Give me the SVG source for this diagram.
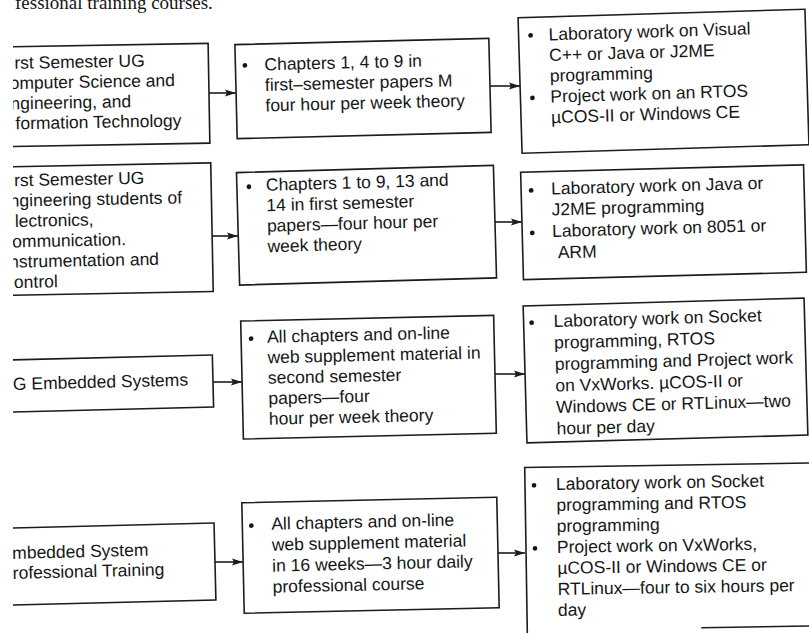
<svg xmlns="http://www.w3.org/2000/svg" width="809" height="633" viewBox="0 0 809 633">
<defs>
<style>
.box{fill:none;stroke:#1c1c1c;stroke-width:1.6}
.t{font-family:"Liberation Sans",Arial,Helvetica,sans-serif;font-size:17.5px;fill:#161616}
.cap{font-family:"Liberation Serif","Times New Roman",serif;font-size:19px;fill:#161616}
.b{fill:#161616}
.conn line{stroke:#1c1c1c;stroke-width:1.6;marker-end:url(#ah)}
</style>
<marker id="ah" markerUnits="userSpaceOnUse" markerWidth="12" markerHeight="8" refX="11" refY="4" orient="auto">
<path d="M0,0.5 L11,4 L0,7.5 L2,4 Z" fill="#1c1c1c"/>
</marker>
<clipPath id="crop"><rect x="13" y="0" width="796" height="633"/></clipPath>
</defs>
<rect x="0" y="0" width="809" height="633" fill="#fff"/>
<g clip-path="url(#crop)">
<text class="cap" x="15" y="8.5">fessional training courses.</text>

<g id="L1" transform="rotate(-1.0 89.5 95.3)">
<rect class="box" x="-30" y="45.4" width="239" height="99.8"/>
<text class="t" x="15" y="67.5">rst Semester UG</text>
<text class="t" x="9.8" y="87.7">omputer Science and</text>
<text class="t" x="10.3" y="108">ngineering, and</text>
<text class="t" x="15" y="128">formation Technology</text>
</g>
<g id="M1" transform="rotate(-1.4 363 88.5)">
<rect class="box" x="236" y="41.5" width="254" height="94"/>
<circle class="b" cx="245.5" cy="62.5" r="2.4"/>
<text class="t" x="265" y="68">Chapters 1, 4 to 9 in</text>
<text class="t" x="265" y="88.5">first–semester papers M</text>
<text class="t" x="265" y="109">four hour per week theory</text>
</g>
<g id="R1" transform="rotate(-1.7 663.5 81.25)">
<rect class="box" x="520" y="13.5" width="287" height="135.5"/>
<circle class="b" cx="532" cy="31.5" r="2.4"/>
<text class="t" x="550" y="37">Laboratory work on Visual</text>
<text class="t" x="550" y="57.7">C++ or Java or J2ME</text>
<text class="t" x="550" y="78.4">programming</text>
<circle class="b" cx="532" cy="94" r="2.4"/>
<text class="t" x="550" y="99.1">Project work on an RTOS</text>
<text class="t" x="550" y="119.8">µCOS-II or Windows CE</text>
</g>

<g id="L2" transform="rotate(-1.1 91 229.5)">
<rect class="box" x="-30" y="165.25" width="242" height="128.5"/>
<text class="t" x="15" y="184.8">rst Semester UG</text>
<text class="t" x="10.3" y="205.2">ngineering students of</text>
<text class="t" x="15" y="225.5">lectronics,</text>
<text class="t" x="12" y="245.9">ommunication.</text>
<text class="t" x="8.6" y="266.2">nstrumentation and</text>
<text class="t" x="13" y="286.6">ontrol</text>
</g>
<g id="M2" transform="rotate(-1.6 366.5 225.25)">
<rect class="box" x="238" y="169" width="257" height="112.5"/>
<circle class="b" cx="250" cy="183.5" r="2.4"/>
<text class="t" x="267" y="188">Chapters 1 to 9, 13 and</text>
<text class="t" x="267" y="208.5">14 in first semester</text>
<text class="t" x="267" y="229">papers—four hour per</text>
<text class="t" x="267" y="249.5">week theory</text>
</g>
<g id="R2" transform="rotate(-1.5 663.5 222.25)">
<rect class="box" x="522" y="168.5" width="283" height="107.5"/>
<circle class="b" cx="532" cy="187" r="2.4"/>
<text class="t" x="552" y="191.5">Laboratory work on Java or</text>
<text class="t" x="552" y="212.5">J2ME programming</text>
<circle class="b" cx="532" cy="229.5" r="2.4"/>
<text class="t" x="552" y="234">Laboratory work on 8051 or</text>
<text class="t" x="557" y="255.5">ARM</text>
</g>

<g id="L3" transform="rotate(-1.4 91.5 384)">
<rect class="box" x="-30" y="358" width="243" height="52"/>
<text class="t" x="13" y="388">G Embedded Systems</text>
</g>
<g id="M3" transform="rotate(-1.3 368.5 377.2)">
<rect class="box" x="242" y="318.2" width="253" height="118"/>
<circle class="b" cx="252" cy="336" r="2.4"/>
<text class="t" x="268" y="340.5">All chapters and on-line</text>
<text class="t" x="268" y="361">web supplement material in</text>
<text class="t" x="268" y="381.5">second semester</text>
<text class="t" x="268" y="402">papers—four</text>
<text class="t" x="268" y="422.5">hour per week theory</text>
</g>
<g id="R3" transform="rotate(-1.6 665.5 370.5)">
<rect class="box" x="525" y="302" width="281" height="137"/>
<circle class="b" cx="533" cy="319" r="2.4"/>
<text class="t" x="555" y="324">Laboratory work on Socket</text>
<text class="t" x="555" y="345.5">programming, RTOS</text>
<text class="t" x="555" y="367">programming and Project work</text>
<text class="t" x="555" y="388.5">on VxWorks. µCOS-II or</text>
<text class="t" x="555" y="410">Windows CE or RTLinux—two</text>
<text class="t" x="555" y="431.5">hour per day</text>
</g>

<g id="L4" transform="rotate(-1.4 92.5 564.5)">
<rect class="box" x="-30" y="526" width="245" height="77"/>
<text class="t" x="12.5" y="557">mbedded System</text>
<text class="t" x="12.5" y="577">rofessional Training</text>
</g>
<g id="M4" transform="rotate(-1.25 370.5 555.25)">
<rect class="box" x="243" y="500" width="255" height="110.5"/>
<circle class="b" cx="252" cy="523" r="2.4"/>
<text class="t" x="272" y="527.5">All chapters and on-line</text>
<text class="t" x="272" y="548.5">web supplement material</text>
<text class="t" x="272" y="569.5">in 16 weeks—3 hour daily</text>
<text class="t" x="272" y="590.5">professional course</text>
</g>
<g id="R4" transform="rotate(-0.9 681 548)">
<path class="box" d="M836,465 H526 V645"/>
<path class="box" d="M700,628 H836"/>
<circle class="b" cx="535" cy="483" r="2.4"/>
<text class="t" x="557" y="488">Laboratory work on Socket</text>
<text class="t" x="557" y="509">programming and RTOS</text>
<text class="t" x="557" y="530">programming</text>
<circle class="b" cx="535" cy="546" r="2.4"/>
<text class="t" x="557" y="551">Project work on VxWorks,</text>
<text class="t" x="557" y="572">µCOS-II or Windows CE or</text>
<text class="t" x="557" y="593">RTLinux—four to six hours per</text>
<text class="t" x="557" y="614">day</text>
</g>
</g>

<g id="connectors" class="conn">
<line x1="209" y1="93" x2="236" y2="93"/>
<line x1="490" y1="86" x2="520" y2="86"/>
<line x1="212" y1="236" x2="238" y2="236"/>
<line x1="495" y1="222" x2="522" y2="222"/>
<line x1="213" y1="382" x2="242" y2="382"/>
<line x1="495" y1="374" x2="525" y2="374"/>
<line x1="215" y1="562" x2="243" y2="562"/>
<line x1="498" y1="553" x2="525" y2="553"/>
</g>
</svg>
